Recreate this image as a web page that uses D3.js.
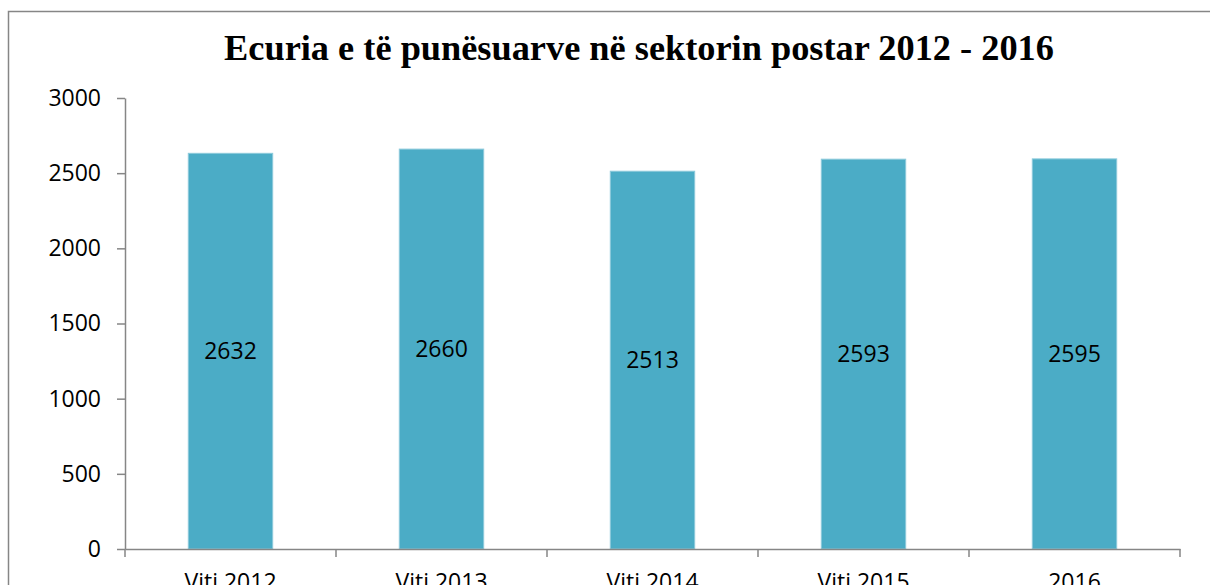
<!DOCTYPE html>
<html>
<head>
<meta charset="utf-8">
<script src="https://cdn.jsdelivr.net/npm/d3@7"></script>
<style>
  body { margin: 0; background: #fff; }
  svg { display: block; }
</style>
</head>
<body>
<script>
var categories = ["Viti 2012", "Viti 2013", "Viti 2014", "Viti 2015", "2016"];
var values = [2632, 2660, 2513, 2593, 2595];
var yTicks = [0, 500, 1000, 1500, 2000, 2500, 3000];
var title = "Ecuria e të punësuarve në sektorin postar 2012 - 2016";

var width = 1210,
    height = 585;

var svg = d3.select("body").append("svg")
    .attr("width", width)
    .attr("height", height);

// chart frame (cut off on the right and bottom)
svg.append("path")
    .attr("d", "M8.5,600V11.5H1230")
    .attr("fill", "none")
    .attr("stroke", "#868686")
    .attr("stroke-width", 1.5);

var x = d3.scaleBand()
    .domain(categories)
    .range([125, 1180])
    .paddingInner(0.6)
    .paddingOuter(0.3);

var y = d3.scaleLinear()
    .domain([0, 3000])
    .range([549, 98]);

// title
var t = svg.append("text")
    .attr("x", 639)
    .attr("y", 60)
    .attr("text-anchor", "middle")
    .style("font-family", "'Liberation Serif', 'DejaVu Serif', serif")
    .style("font-weight", "bold")
    .style("font-size", "34px")
    .style("fill", "#000")
    .text(title);
var tl = t.node().getComputedTextLength();
t.style("font-size", (34 * 830 / tl) + "px");

// bars
svg.append("g")
    .selectAll("rect")
    .data(values)
    .enter()
    .append("rect")
    .attr("x", function(d, i) { return x(categories[i]); })
    .attr("y", function(d) { return y(d); })
    .attr("width", x.bandwidth())
    .attr("height", function(d) { return y(0) - y(d); })
    .style("fill", "#4BACC6")
    .style("stroke", "#8ccadb")
    .style("stroke-width", 1);

// value labels in the middle of bars
svg.append("g")
    .selectAll("text")
    .data(values)
    .enter()
    .append("text")
    .attr("x", function(d, i) { return x(categories[i]) + x.bandwidth() / 2; })
    .attr("y", function(d) { return y(d / 2); })
    .attr("dy", "0.35em")
    .attr("text-anchor", "middle")
    .style("font-family", "'Open Sans', sans-serif")
    .style("font-size", "23px")
    .style("fill", "#000")
    .text(function(d) { return d; });

// y axis
var yAxis = svg.append("g")
    .attr("transform", "translate(125,0)")
    .call(d3.axisLeft(y).tickValues(yTicks).tickFormat(d3.format("d"))
      .tickSize(8).tickPadding(16).tickSizeOuter(0));

// x axis
var xAxis = svg.append("g")
    .attr("transform", "translate(0,549)")
    .call(d3.axisBottom(x).tickSize(0).tickPadding(25));

var step = x.step();
var bounds = categories.map(function(c) { return x(c) - step * 0.3; });
bounds.push(x(categories[categories.length - 1]) + x.bandwidth() + step * 0.3);
xAxis.selectAll(".bound")
    .data(bounds)
    .enter()
    .append("line")
    .attr("class", "bound")
    .attr("x1", function(d) { return d; })
    .attr("x2", function(d) { return d; })
    .attr("y1", 0)
    .attr("y2", 8);

[yAxis, xAxis].forEach(function(g) {
  g.selectAll("path, line")
      .attr("stroke", "#868686")
      .attr("stroke-width", 1.5);
  g.selectAll("text")
      .style("font-family", "'Open Sans', sans-serif")
      .style("font-size", "23px")
      .style("fill", "#000");
});
</script>
</body>
</html>
